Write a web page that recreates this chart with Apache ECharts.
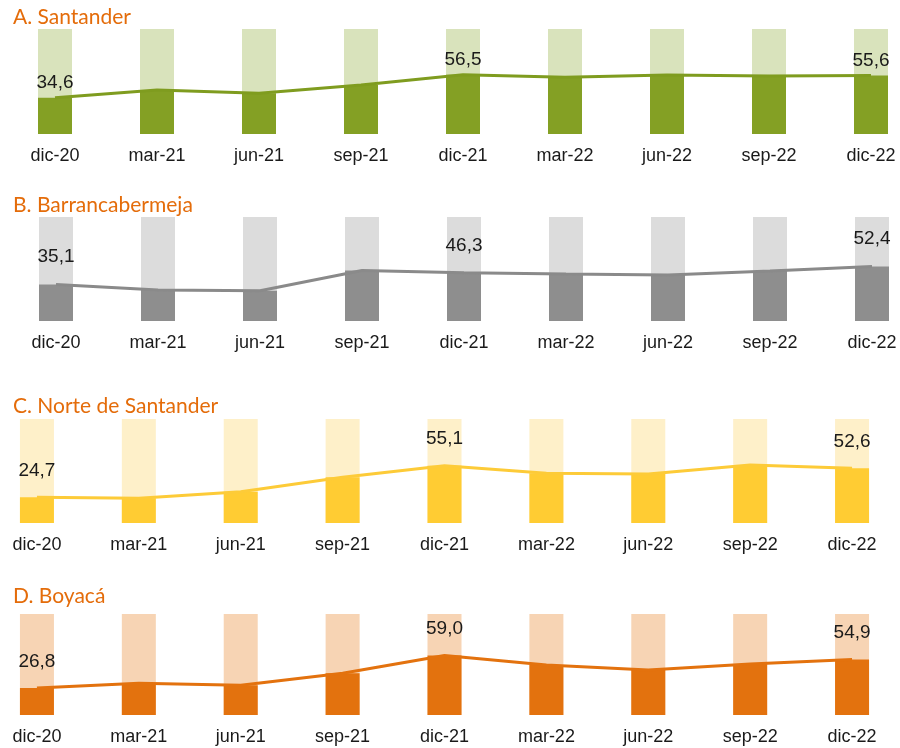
<!DOCTYPE html>
<html>
<head>
<meta charset="utf-8">
<script src="https://cdn.jsdelivr.net/npm/echarts@6/dist/echarts.min.js"></script>
<style>
html,body{margin:0;padding:0;background:#fff;}
#chart{width:900px;height:748px;}
</style>
</head>
<body>
<div id="chart"></div>
<script>
const categories = ['dic-20','mar-21','jun-21','sep-21','dic-21','mar-22','jun-22','sep-22','dic-22'];
const santander = [34.6, 41.9, 38.8, 46.7, 56.5, 54.0, 56.2, 55.2, 55.6];
const barrancabermeja = [35.1, 29.8, 29.1, 48.5, 46.3, 45.2, 44.2, 48.0, 52.4];
const norteSantander = [24.7, 23.7, 30.1, 43.9, 55.1, 47.8, 47.1, 55.8, 52.6];
const boyaca = [26.8, 31.4, 29.4, 41.3, 59.0, 49.5, 44.6, 50.5, 54.9];
const panelTitles = ['A. Santander','B. Barrancabermeja','C. Norte de Santander','D. Boyacá'];
const labeledIdx = [0, 4, 8];
const yMax = 100;

const panels = [
  {data: santander, dark:'#84A024', line:'#7F9C1F', light:'#D9E3BC', grid:{left:4, width:918, top:29, height:105}, titleTop:2, labelDist:5},
  {data: barrancabermeja, dark:'#8E8E8E', line:'#8A8A8A', light:'#DCDCDC', grid:{left:5, width:918, top:217, height:104}, titleTop:190, labelDist:18},
  {data: norteSantander, dark:'#FFCC33', line:'#FDCB38', light:'#FEF0C9', grid:{left:-14, width:917, top:419, height:104}, titleTop:391, labelDist:17},
  {data: boyaca, dark:'#E3720E', line:'#E3720E', light:'#F7D4B4', grid:{left:-14, width:917, top:614, height:101}, titleTop:581, labelDist:17}
];

const option = {
  animation:false,
  backgroundColor:'#fff',
  title: panels.map((p,i)=>({
    text: panelTitles[i], left:8, top:p.titleTop,
    textStyle:{color:'#E46C0A', fontSize:21, fontWeight:'normal', fontFamily:'Lato'}
  })),
  grid: panels.map(p=>Object.assign({outerBoundsMode:'none', containLabel:false}, p.grid)),
  xAxis: panels.map((p,i)=>({
    type:'category', gridIndex:i, data:categories, boundaryGap:true,
    axisLine:{show:false}, axisTick:{show:false},
    axisLabel:{color:'#1a1a1a', fontSize:18, fontFamily:'Liberation Sans', margin:13, interval:0}
  })),
  yAxis: panels.map((p,i)=>({
    type:'value', gridIndex:i, min:0, max:yMax, show:false, splitLine:{show:false}
  })),
  series: panels.flatMap((p,i)=>[
    {
      type:'bar', xAxisIndex:i, yAxisIndex:i, data:p.data, barWidth:34,
      itemStyle:{color:p.dark},
      showBackground:true, backgroundStyle:{color:p.light},
      label:{
        show:true, position:'top', distance:p.labelDist,
        color:'#1a1a1a', fontSize:19, fontFamily:'Liberation Sans',
        formatter: (d)=> labeledIdx.includes(d.dataIndex) ? d.value.toFixed(1).replace('.', ',') : ''
      },
      z:2
    },
    {
      type:'line', xAxisIndex:i, yAxisIndex:i, data:p.data, symbol:'none',
      lineStyle:{color:p.line, width:3}, z:3
    }
  ])
};

const chart = echarts.init(document.getElementById('chart'), null, {renderer:'canvas'});
chart.setOption(option);
</script>
</body>
</html>
